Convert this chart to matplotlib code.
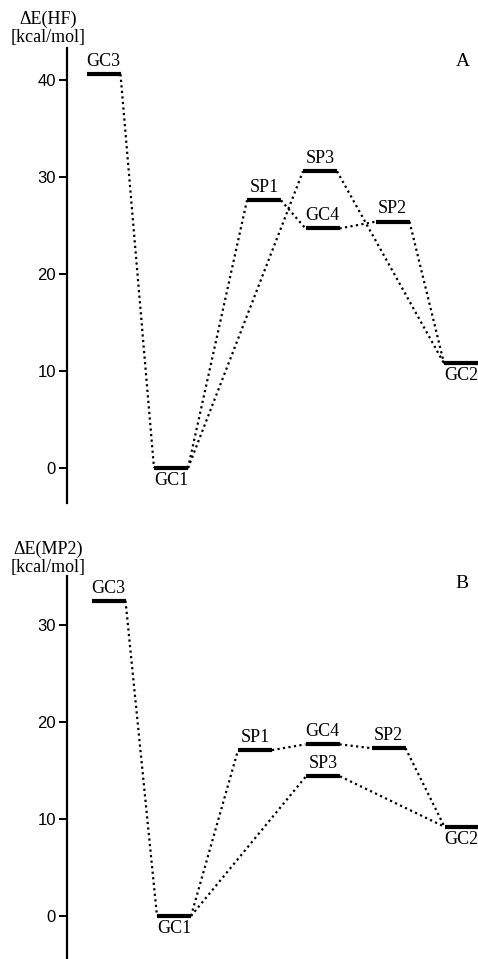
import matplotlib
matplotlib.use("Agg")
import matplotlib.pyplot as plt

# energies of the stationary points (kcal/mol)
states = ["GC3", "GC1", "SP1", "SP3", "GC4", "SP2", "GC2"]
hf_energy = [40.6, 0.0, 27.6, 30.6, 24.7, 25.4, 10.8]
mp2_energy = [32.5, 0.0, 17.1, 14.4, 17.7, 17.3, 9.2]
yticks_hf = [0, 10, 20, 30, 40]
yticks_mp2 = [0, 10, 20, 30]

# which levels are joined by dotted lines
links = [("GC3", "GC1"), ("GC1", "SP1"), ("GC1", "SP3"), ("SP1", "GC4"),
         ("GC4", "SP2"), ("SP3", "GC2"), ("SP2", "GC2")]

# layout: horizontal centre of each level (figure pixels) and label side
hf_x = [103.5, 171, 264, 320, 322.5, 392.5, 461]
mp2_x = [108.5, 174, 255, 323, 322.5, 388.5, 461.5]
above = {"GC3": True, "GC1": False, "SP1": True, "SP3": True,
         "GC4": True, "SP2": True, "GC2": False}
half = 17

plt.rcParams["font.family"] = ["Liberation Serif", "DejaVu Serif"]
fig = plt.figure(figsize=(4.78, 9.59), dpi=100)

W, H = 478, 959


def panel(rect_px, ylim, energy, xs, ticks, ylab, label_y):
    top, bottom = rect_px
    ax = fig.add_axes([67 / W, 1 - bottom / H, 1 - 67 / W, (bottom - top) / H])
    ax.set_xlim(67, 478)
    ax.set_ylim(*ylim)
    for s in ["top", "right", "bottom"]:
        ax.spines[s].set_visible(False)
    ax.spines["left"].set_linewidth(1.6)
    ax.set_xticks([])
    ax.set_yticks(ticks)
    ax.set_yticklabels([str(t) for t in ticks], family="Liberation Sans",
                       fontsize=12)
    ax.tick_params(axis="y", direction="out", length=6, width=1.4, pad=2)

    pos = {s: (x, e) for s, x, e in zip(states, xs, energy)}
    for a, b in links:
        xa, ea = pos[a]
        xb, eb = pos[b]
        ax.plot([xa + half, xb - half], [ea, eb], color="black", lw=1.6,
                linestyle=(0, (1, 1.5)), clip_on=False)
    for s in states:
        x, e = pos[s]
        ax.plot([x - half, x + half], [e, e], color="black", lw=3,
                solid_capstyle="butt", clip_on=False)
        if above[s]:
            ax.annotate(s, (x, e), xytext=(0, 3), textcoords="offset points",
                        ha="center", va="bottom", fontsize=13)
        else:
            ax.annotate(s, (x, e), xytext=(0, -3), textcoords="offset points",
                        ha="center", va="top", fontsize=13)
    fig.text(48 / W, 1 - label_y / H, ylab,
             ha="center", va="center", fontsize=13, linespacing=1.1)
    return ax


panel((48, 503), (-3.6, 43.3), hf_energy, hf_x, yticks_hf,
      "\u0394E(HF)\n[kcal/mol]", 28)
panel((576, 959), (-4.43, 35.05), mp2_energy, mp2_x, yticks_mp2,
      "\u0394E(MP2)\n[kcal/mol]", 558)

fig.text(463 / W, 1 - 62 / H, "A", ha="center", va="center", fontsize=14)
fig.text(462 / W, 1 - 583 / H, "B", ha="center", va="center", fontsize=14)

fig.savefig("out.png", dpi=100)
